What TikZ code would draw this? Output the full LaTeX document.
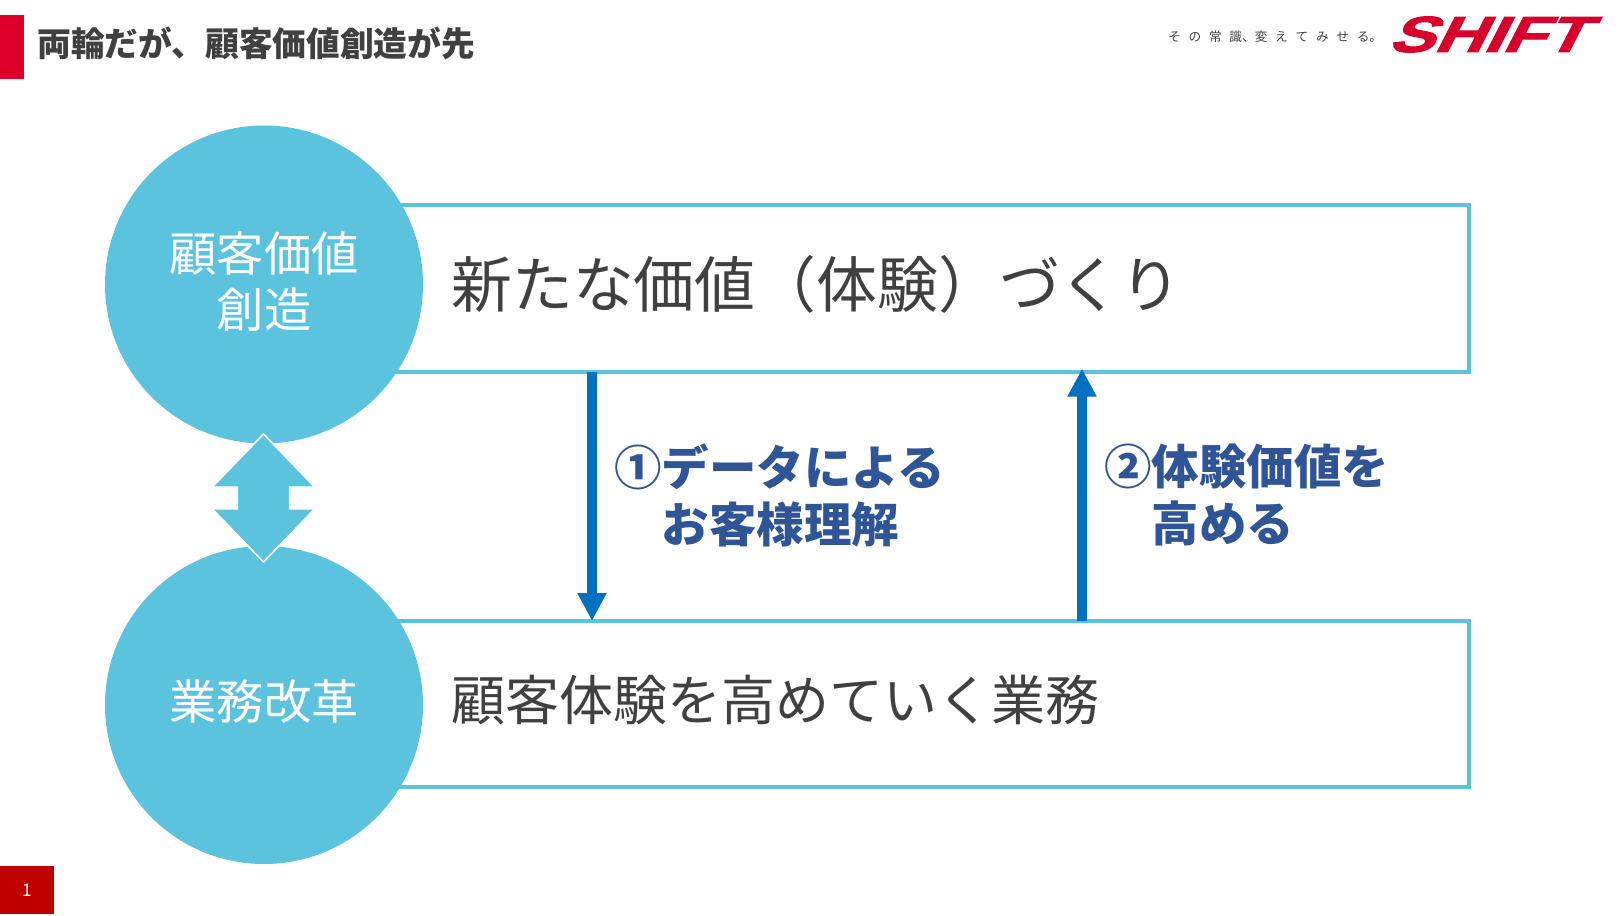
\documentclass[tikz,border=0pt]{standalone}
\usepackage{fontspec}
\usepackage{graphicx}
\usetikzlibrary{arrows.meta,shapes.arrows}
\newfontfamily\jpfont{Noto Sans CJK JP}
\newfontfamily\logofont[FakeSlant=0.38,FakeBold=2]{Liberation Sans Bold}
\definecolor{skyc}{HTML}{5BC3DD}
\definecolor{redbar}{HTML}{DC0028}
\definecolor{redpage}{HTML}{C00000}
\definecolor{logored}{HTML}{D7002D}
\definecolor{arrowblue}{HTML}{0070C0}
\definecolor{textblue}{HTML}{2F5597}
\definecolor{textgrey}{HTML}{404040}
\tikzset{
  bandbox/.style={draw=skyc,line width=2.5pt,fill=white,inner sep=0pt,outer sep=0pt,minimum width=876.75pt},
  roundel/.style={circle,fill=skyc,inner sep=0pt,outer sep=0pt,minimum size=238.5pt},
  roundeltext/.style={inner sep=0pt,text=white,align=center,font=\jpfont\fontsize{35.5}{42.2}\selectfont},
  bandtext/.style={anchor=west,inner sep=0pt,text=textgrey},
  bluetext/.style={anchor=west,inner sep=0pt,text=textblue,align=left,
    font=\jpfont\bfseries\fontsize{35.6}{42.75}\selectfont},
  flowarrow/.style={draw=arrowblue,line width=7pt,-{Triangle[length=21pt,width=20.5pt]}},
  swaparrow/.style={double arrow,fill=skyc,draw=white,line width=1.2pt,inner xsep=0pt,inner ysep=19.1pt,outer sep=0pt,rotate=90,
    minimum height=96pt,minimum width=76pt,double arrow head extend=18.8pt,double arrow tip angle=88},
}
\begin{document}
\begin{tikzpicture}[x=0.75pt,y=-0.75pt]
\useasboundingbox (0,0) rectangle (1622,916);
% header
\node (bar) [fill=redbar,inner sep=0pt,minimum width=18pt,minimum height=48pt] at (12,47) {};
\node (title) [anchor=west,inner sep=0pt,text=textgrey,font=\jpfont\bfseries\fontsize{25.3}{30}\selectfont] at (37,43) {両輪だが、顧客価値創造が先};
\node (tag) [anchor=west,inner sep=0pt,text=textgrey,font=\jpfont\fontsize{9.5}{12}\selectfont] at (1168,37)
  {そ\hspace{5.8pt}の\hspace{5.8pt}常\hspace{5.8pt}識、変\hspace{5.8pt}え\hspace{5.8pt}て\hspace{5.8pt}み\hspace{5.8pt}せ\hspace{5.8pt}る。};
\node (logo) [anchor=west,inner sep=0pt,text=logored] at (1387,34.5)
  {\scalebox{1.35}[1]{\logofont\fontsize{38}{38}\selectfont SHIFT}};
% bands
\node (bandA) [bandbox,minimum height=125.25pt] at (884.5,288.5) {};
\node (bandB) [bandbox,minimum height=124.5pt] at (884.5,704) {};
\node (bandAtext) [bandtext,font=\jpfont\fontsize{45.65}{50}\selectfont] at (451,284) {新たな価値（体験）づくり};
\node (bandBtext) [bandtext,font=\jpfont\fontsize{40.5}{46}\selectfont] at (451,700) {顧客体験を高めていく業務};
% circles
\node (topc) [roundel] at (264,284.5) {};
\node (botc) [roundel] at (264,705) {};
\node (topctext) [roundeltext] at ([yshift=2.4pt]topc.center) {顧客価値\\創造};
\node (botctext) [roundeltext] at ([yshift=2.8pt]botc.center) {業務改革};
\node (swap) [swaparrow] at (263.5,498) {};
% flow arrows
\coordinate (downx) at (592,0);
\coordinate (upx) at (1082,0);
\draw[flowarrow] (downx |- bandA.south) -- (downx |- bandB.north);
\draw[flowarrow,shorten >=-2.5pt] (upx |- bandB.north) -- (upx |- bandA.south);
\node (downlabel) [bluetext] at (614,495) {①データによる\\\hspace{1em}お客様理解};
\node (uplabel) [bluetext] at (1104,495) {②体験価値を\\\hspace{1em}高める};
% page number
\node (pagebox) [fill=redpage,inner sep=0pt,minimum width=40.5pt,minimum height=36.5pt] at (27,890) {};
\node (pagenum) [inner sep=0pt,text=white,font=\jpfont\fontsize{13}{14}\selectfont] at (pagebox.center) {1};
\end{tikzpicture}
\end{document}
